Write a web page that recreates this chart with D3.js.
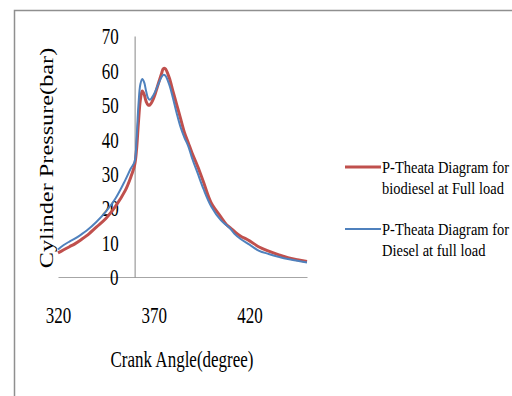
<!DOCTYPE html>
<html>
<head>
<meta charset="utf-8">
<script src="https://cdn.jsdelivr.net/npm/d3@7"></script>
<style>
html,body{margin:0;padding:0;background:#fff;}
svg{display:block;}
</style>
</head>
<body>
<svg id="chart" width="512" height="396"></svg>
<script>
const angles = [320,323,326,329,332,335,340,345,350,355,358,360,361,362,363,364,365,366,367,368,370,372,374,375,376,378,380,382,384,386,388,390,393,396,400,405,408,410,412,415,420,425,430,435,440,445,450];
const biodiesel = [7.0,7.9,8.8,9.7,10.8,12.0,14.5,17.0,20.5,25.0,29.0,32.5,37,45,51.5,54,53,51,50,50,52,55.5,59,60.5,60.5,58,54,50,46,42,39,36,32,27.5,21.5,17.5,15.2,14.3,13.3,12,10.5,8.7,7.5,6.5,5.6,5.0,4.5];
const diesel = [8.0,9.3,10.3,11.2,12.3,13.5,16.0,19.0,22.8,28.0,31.5,33.5,40,50,56,57.5,56.5,54,52,51.5,53,55.5,58,58.7,58.5,56,52,47.5,43.5,40.5,38,34.5,30,25.5,20.5,16.5,15.0,14.0,12.6,11.2,9.4,7.6,6.7,5.9,5.2,4.7,4.2];
const yTicks = [0,10,20,30,40,50,60,70];
const xTicks = [320,370,420];
const seriesNames = [["P-Theata Diagram for","biodiesel at Full load"],["P-Theata Diagram for","Diesel at full load"]];
const colors = ["#C0504D","#4F81BD"];

const svg = d3.select("#chart");
// outer frame
svg.append("path").attr("d","M14.5,396 V10.5 H512").attr("fill","none").attr("stroke","#8f8f8f").attr("stroke-width",1.5);

const x = d3.scaleLinear().domain([320,450]).range([58,307]);
const y = d3.scaleLinear().domain([0,70]).range([277,36]);
const serif = "'Liberation Serif','Times New Roman',serif";

// x axis line
const xa = svg.append("g").attr("transform",`translate(0,${y(0)})`)
  .call(d3.axisBottom(x).tickValues(xTicks).tickSize(0).tickSizeOuter(0).tickFormat(d3.format("d")));
xa.select(".domain").attr("stroke","#a6a6a6").attr("stroke-width",1.2);
xa.selectAll(".tick text").attr("y",0).attr("dy","0.35em")
  .attr("transform","translate(0,38) scale(1,1.3)")
  .style("font-family",serif).style("font-size","17px").attr("fill","#000");

// y axis
const ya = svg.append("g").attr("transform",`translate(${x(360)},0)`)
  .call(d3.axisLeft(y).tickValues(yTicks).tickSize(0).tickSizeOuter(0).tickPadding(16).tickFormat(d3.format("d")));
ya.select(".domain").attr("stroke","#868686").attr("stroke-width",1);
ya.selectAll(".tick text").attr("dy","0.35em")
  .attr("transform","scale(1,1.3)")
  .style("font-family",serif).style("font-size","17px").attr("fill","#000");

// lines
const line = d3.line().x((d,i)=>x(angles[i])).y(d=>y(d)).curve(d3.curveCatmullRom.alpha(0.5));
svg.append("path").datum(biodiesel).attr("d",line).attr("fill","none").attr("stroke",colors[0]).attr("stroke-width",3).attr("stroke-linejoin","round");
svg.append("path").datum(diesel).attr("d",line).attr("fill","none").attr("stroke",colors[1]).attr("stroke-width",2).attr("stroke-linejoin","round");

// axis titles
svg.append("text").text("Crank Angle(degree)")
  .attr("transform","translate(182,359) scale(1,1.3)")
  .attr("text-anchor","middle").attr("dy","0.35em")
  .style("font-family",serif).style("font-size","17px").attr("fill","#000");
svg.append("text").text("Cylinder Pressure(bar)")
  .attr("transform","translate(47,158) rotate(-90) scale(1.35,1)")
  .attr("text-anchor","middle").attr("dy","0.35em")
  .style("font-family",serif).style("font-size","18px").attr("fill","#000");

// legend
const legY = [167,229];
seriesNames.forEach((lines,i)=>{
  svg.append("line").attr("x1",345).attr("x2",381).attr("y1",legY[i]).attr("y2",legY[i])
    .attr("stroke",colors[i]).attr("stroke-width",i===0?3:2);
  lines.forEach((t,j)=>{
    svg.append("text").text(t)
      .attr("transform",`translate(382,${legY[i]+j*21}) scale(1,1.2)`)
      .attr("dy","0.35em")
      .style("font-family",serif)
      .style("font-size","14.5px").attr("fill","#000");
  });
});
</script>
</body>
</html>
